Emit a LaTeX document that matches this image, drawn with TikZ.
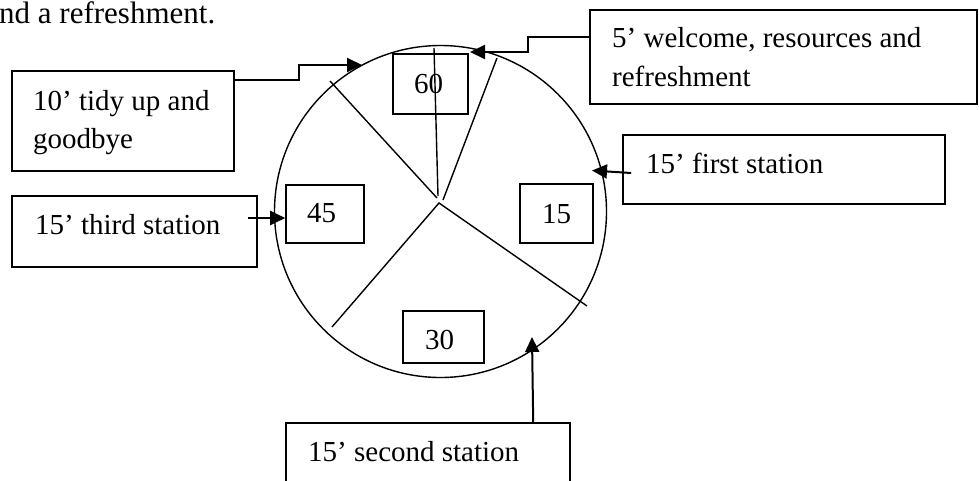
\documentclass[tikz,border=0pt]{standalone}
\usepackage{fontspec}
\setmainfont{Liberation Serif}
\usetikzlibrary{arrows.meta,calc}
\begin{document}
\begin{tikzpicture}[x=1pt,y=-1pt,
  box/.style={draw,line width=1.6pt,rectangle,inner sep=0pt},
  lbl/.style={anchor=base west,inner sep=0pt,font=\fontsize{29}{38}\selectfont},
  conn/.style={line width=2pt,-{Triangle[length=15pt,width=14pt]}},
  sector/.style={line width=1.4pt}]
\useasboundingbox (0,0) rectangle (979,480);
\clip (0,0) rectangle (979,480);
% leftover text line
\node[lbl,font=\fontsize{31}{38}\selectfont] (top) at (-1,23) {nd a refreshment.};
% clock
\node[draw,circle,minimum size=332pt,inner sep=0pt,line width=1.4pt] (clock) at (440.5,211.5) {};
\coordinate (hubA) at (437,198);
\coordinate (hubV) at (438,196);
\coordinate (hubR) at (443,200);
\coordinate (hubB) at (439,203);
\coordinate (eUL) at (330,81);
\coordinate (eV) at (434,48);
\coordinate (eUR) at (497,58);
\coordinate (eLL) at (332,327);
\coordinate (eLR) at (587,306);
\draw[sector] (eUL) -- (hubA);
\draw[sector] (eUR) -- (hubR);
\draw[sector] (eLL) -- (hubB) -- (eLR);
% minute boxes
\node[box,fill=white,minimum width=75pt,minimum height=60pt] (b60) at (430.5,84) {};
\draw[sector] (eV) -- (hubV);
\node[box,minimum width=73pt,minimum height=59pt] (b15) at (556.5,213.5) {};
\node[box,minimum width=81pt,minimum height=52pt] (b30) at (443.5,337) {};
\node[box,minimum width=78pt,minimum height=58pt] (b45) at (325,214) {};
\node[lbl] (t60) at (414,93) {60};
\node[lbl] (t15) at (542,223) {15};
\node[lbl] (t30) at (425,349) {30};
\node[lbl] (t45) at (307,222) {45};
% activity boxes
\node[box,minimum width=222pt,minimum height=100pt] (tidy) at (123,121) {};
\node[lbl] (tidy1) at (33,110) {10’ tidy up and};
\node[lbl] (tidy2) at (33,148) {goodbye};
\node[box,minimum width=387pt,minimum height=94pt] (welcome) at (783.5,57) {};
\node[lbl] (welc1) at (612,47) {5’ welcome, resources and};
\node[lbl] (welc2) at (612,86) {refreshment};
\node[box,minimum width=322pt,minimum height=69pt] (first) at (784,169.5) {};
\node[lbl] (tfirst) at (646,173) {15’ first station};
\node[box,minimum width=245pt,minimum height=71pt] (third) at (134.5,231.5) {};
\node[lbl] (tthird) at (35,234) {15’ third station};
\node[box,minimum width=284pt,minimum height=70pt] (second) at (428,458) {};
\node[lbl] (tsecond) at (308,461) {15’ second station};
% connectors
\coordinate (tipTidy) at (362,65);
\coordinate (tipWel) at (470,52);
\coordinate (tipFirst) at (592,170.5);
\coordinate (tipSecond) at (532,337);
\draw[conn] ($(tidy.north east)+(0,9.7)$) -| ($(tipTidy)+(-63,0)$) -- (tipTidy);
\draw[conn] ($(welcome.north west)+(0,27.3)$) -| ($(tipWel)+(58,0)$) -- (tipWel);
\draw[conn] ($(first.west)+(9,3.5)$) -- (tipFirst);
\draw[conn] ($(third.east)+(-10,-13.5)$) -- ($(b45.west)+(0,4)$);
\draw[conn] ($(second.north west)+(248,0)$) -- (tipSecond);
\end{tikzpicture}
\end{document}
